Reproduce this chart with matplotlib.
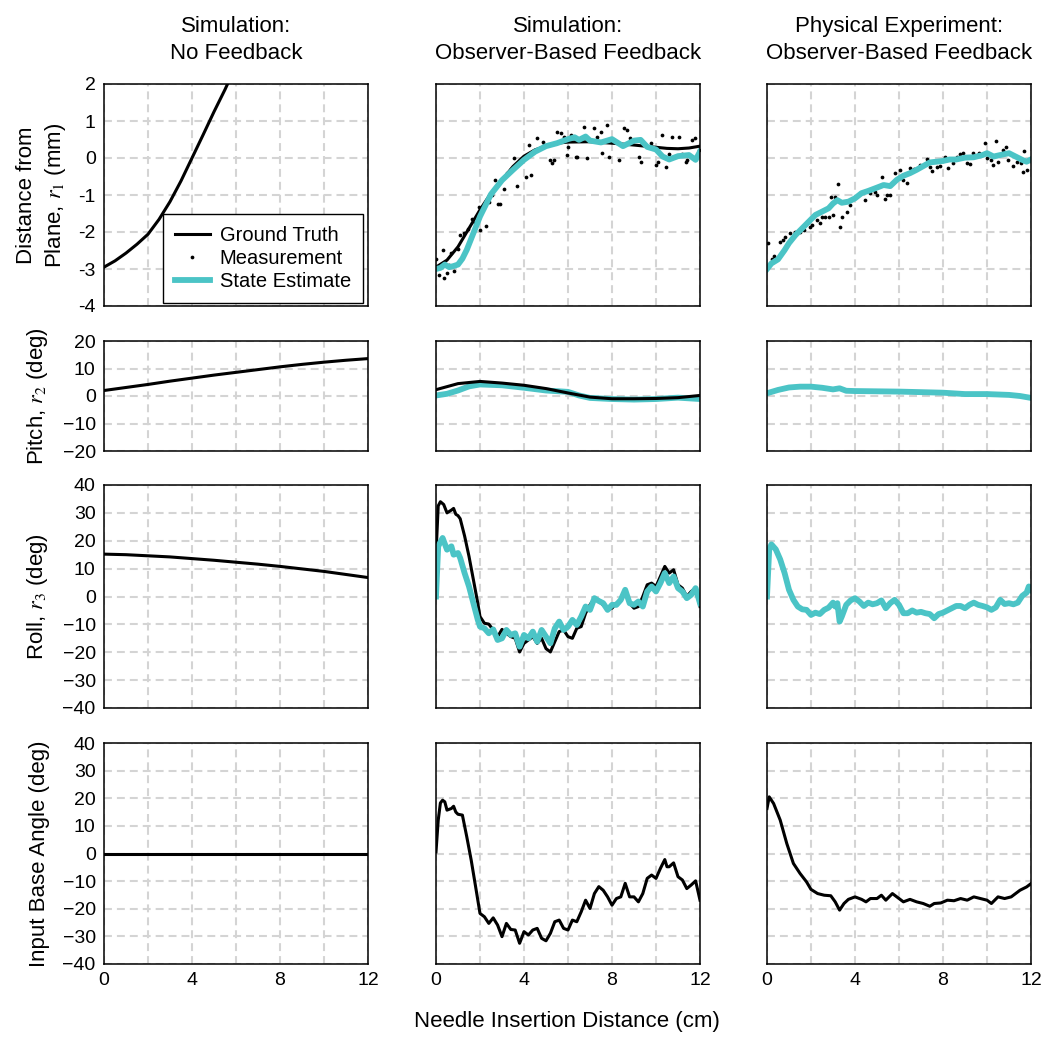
import matplotlib
matplotlib.use('Agg')
import matplotlib.pyplot as plt
from matplotlib.lines import Line2D

plt.rcParams['font.family'] = ['Liberation Sans', 'DejaVu Sans']
plt.rcParams['mathtext.fontset'] = 'stix'

# ---- datos ----
x_tramo = [0, 1, 2, 3, 4, 5, 6, 7, 8, 9, 10, 11, 12]

# Simulacion sin realimentacion
sin_r1_x = [0, 0.5, 1, 1.5, 2, 2.5, 3, 3.5, 4, 4.5, 5, 5.5, 6]
sin_r1 = [-2.95, -2.78, -2.57, -2.33, -2.06, -1.66, -1.18, -0.62, 0.0, 0.62, 1.25, 1.85, 2.5]
sin_r2 = [2.0, 3.1, 4.2, 5.4, 6.5, 7.6, 8.6, 9.6, 10.6, 11.5, 12.3, 13.0, 13.6]
sin_r3 = [15.2, 15.0, 14.6, 14.2, 13.6, 13.0, 12.3, 11.6, 10.8, 9.9, 9.0, 7.9, 6.8]
sin_u_x = [0, 12]
sin_u = [0, 0]

# Simulacion con realimentacion
sim_r1_x = [0, 0.5, 1, 1.5, 2, 2.5, 3, 3.5, 4, 4.5, 5, 5.5, 6, 7, 8, 9, 10, 10.5, 11, 11.5, 12]
sim_r1 = [-2.95, -2.76, -2.4, -1.9, -1.4, -0.95, -0.6, -0.23, 0.05, 0.22, 0.32, 0.4, 0.43,
          0.44, 0.4, 0.35, 0.29, 0.26, 0.25, 0.27, 0.32]
sim_r1_est_x = [0, 0.2, 0.4, 0.6, 0.8, 1.0, 1.2, 1.4, 1.6, 1.8, 2.0, 2.5, 3.0, 3.5, 4.0, 4.5,
                5.0, 5.5, 6.0, 6.3, 6.5, 6.8, 7.0, 7.5, 8.0, 8.5, 9.0, 9.3, 9.6, 10.0, 10.3,
                10.6, 11.0, 11.5, 11.8, 12.0]
sim_r1_est = [-3.0, -2.97, -2.88, -2.95, -2.92, -2.88, -2.72, -2.48, -2.18, -1.88, -1.58, -0.98,
              -0.6, -0.32, -0.05, 0.17, 0.32, 0.4, 0.51, 0.56, 0.49, 0.58, 0.47, 0.42, 0.51,
              0.32, 0.47, 0.49, 0.3, 0.23, 0.04, -0.04, 0.05, 0.08, -0.05, 0.17]
sim_medidas = [(0, -2.74), (0.15, -3.15), (0.3, -2.49), (0.38, -3.25), (0.5, -3.1), (0.6, -2.9),
               (0.7, -2.58), (0.8, -3.05), (1.0, -2.45), (1.08, -2.08), (1.26, -2.02),
               (1.46, -1.93), (1.64, -1.66), (1.76, -1.77), (1.94, -1.32), (1.99, -1.95),
               (2.14, -1.32), (2.27, -1.83), (2.4, -1.2), (2.55, -1.0), (2.7, -0.59),
               (2.8, -1.23), (2.93, -1.24), (3.1, -0.85), (3.23, -0.41), (3.4, -0.3),
               (3.54, 0.0), (3.69, -0.77), (3.84, -0.05), (3.99, -0.04), (4.11, -0.5),
               (4.22, 0.35), (4.3, -0.46), (4.45, 0.17), (4.6, 0.53), (4.87, 0.44),
               (4.93, 0.35), (5.17, -0.05), (5.28, -0.14), (5.36, -0.05), (5.51, 0.71),
               (5.66, 0.68), (5.81, 0.58), (5.97, 0.08), (6.0, 0.3), (6.12, 0.62),
               (6.35, 0.04), (6.42, 0.04), (6.72, 0.85), (6.87, -0.01), (7.18, 0.8),
               (7.33, 0.58), (7.48, 0.71), (7.56, 0.13), (7.79, 0.89), (7.86, 0.04),
               (8.09, 0.49), (8.32, -0.05), (8.54, 0.8), (8.7, 0.76), (8.8, 0.55),
               (8.92, 0.44), (9.22, 0.04), (9.3, -0.1), (9.76, 0.4), (9.99, -0.19),
               (10.1, -0.1), (10.29, 0.62), (10.44, -0.23), (10.6, 0.1), (10.74, 0.58),
               (11.05, 0.56), (11.2, 0.1), (11.35, -0.1), (11.43, -0.05), (11.65, 0.49),
               (11.76, 0.53), (11.95, 0.22)]

sim_r2 = [2.3, 4.5, 5.3, 4.7, 3.9, 2.7, 1.1, -0.4, -1.0, -1.0, -0.9, -0.6, 0.2]
sim_r2_est_x = [0, 0.5, 1, 1.5, 2, 3, 4, 5, 6, 6.5, 7, 8, 9, 10, 11, 12]
sim_r2_est = [0.2, 0.8, 2.0, 3.5, 4.2, 3.9, 3.0, 2.0, 1.5, 0.2, -0.7, -1.1, -1.3, -1.1, -0.6, -1.1]

sim_r3_x = [0, 0.1, 0.2, 0.35, 0.5, 0.7, 0.8, 0.9, 1.0, 1.1, 1.3, 1.5, 1.7, 1.9, 2.0, 2.2, 2.4,
            2.6, 2.8, 3.0, 3.2, 3.4, 3.6, 3.8, 4.0, 4.2, 4.4, 4.6, 4.8, 5.0, 5.2, 5.4, 5.6,
            5.8, 6.0, 6.2, 6.4, 6.6, 6.8, 7.0, 7.2, 7.4, 7.6, 7.8, 8.0, 8.2, 8.4, 8.6, 8.8,
            9.0, 9.2, 9.4, 9.6, 9.8, 10.0, 10.2, 10.4, 10.5, 10.6, 10.8, 11.0, 11.2, 11.4,
            11.6, 11.8, 12.0]
sim_r3 = [15, 32.5, 34, 33, 30, 31, 31.6, 29.5, 29, 27.9, 21.7, 14.4, 6, -2.4, -7.2, -9.6,
          -9.9, -12, -14.4, -11.8, -13.2, -14.4, -15, -19.9, -16.8, -15.6, -14.4, -16.8, -15,
          -18.7, -19.9, -16.2, -12.6, -12, -14.4, -15, -11.4, -10.8, -6, -3, -0.6, -1.8, -3,
          -4.8, -4.2, -2.4, -1.2, 1.8, -2.4, -4.2, -3.6, 0, 4.2, 4.8, 3.6, 7.2, 10.8, 9.6, 8.4,
          9.6, 4.2, 3, 0, 1.8, 3, -3.6]
sim_r3_est_x = [0, 0.1, 0.3, 0.5, 0.7, 0.8, 1.0, 1.1, 1.3, 1.5, 1.7, 1.9, 2.0, 2.2, 2.4, 2.6,
                2.8, 3.0, 3.2, 3.4, 3.6, 3.8, 4.0, 4.2, 4.4, 4.6, 4.8, 5.0, 5.2, 5.4, 5.6, 5.8,
                6.0, 6.2, 6.4, 6.6, 6.8, 7.0, 7.2, 7.4, 7.6, 7.8, 8.0, 8.2, 8.4, 8.6, 8.8, 9.0,
                9.2, 9.4, 9.6, 9.8, 10.0, 10.2, 10.4, 10.6, 10.8, 11.0, 11.2, 11.4, 11.6, 11.8,
                12.0]
sim_r3_est = [0, 18, 21, 16.8, 18, 15, 15.6, 13.8, 8.4, 3.6, -2.4, -8.4, -10.8, -11.4, -13.2,
              -11.8, -15.6, -15, -12, -13.8, -13.2, -18, -13.8, -15, -12.6, -16.2, -12, -14.4,
              -16.8, -11.4, -9, -12, -10.8, -8.4, -10.2, -7.2, -3.6, -4.8, -0.6, -1.6, -2.4,
              -4.8, -3, -3, -1.2, 2.4, -2.4, -3, -1.8, -3.6, 1.8, 3.6, 1.8, 4.8, 8.4, 4.8, 7.2,
              3, 1.8, -0.6, 0.6, 3, -2.4]

sim_u_x = [0, 0.1, 0.2, 0.3, 0.4, 0.5, 0.7, 0.8, 0.9, 1.0, 1.2, 1.4, 1.6, 1.8, 2.0, 2.2, 2.4,
           2.6, 2.8, 3.0, 3.2, 3.4, 3.6, 3.8, 4.0, 4.2, 4.4, 4.6, 4.8, 5.0, 5.2, 5.4, 5.6, 5.8,
           6.0, 6.2, 6.4, 6.6, 6.8, 7.0, 7.2, 7.4, 7.6, 7.8, 8.0, 8.2, 8.4, 8.6, 8.8, 9.0, 9.2,
           9.4, 9.6, 9.8, 10.0, 10.2, 10.4, 10.5, 10.6, 10.8, 11.0, 11.2, 11.4, 11.6, 11.8, 12.0]
sim_u = [0.6, 12, 18.3, 19.3, 18.7, 15.7, 16.3, 17.1, 15, 14.2, 13.9, 6, -2.4, -12, -21.7,
         -22.9, -25.3, -23.3, -25.9, -30.1, -25.3, -27.5, -27.7, -32.5, -28.3, -29.5, -27.7,
         -27.1, -30.7, -31.6, -28.9, -24.7, -24.1, -27.1, -27.7, -24.1, -24.7, -21.1, -16.9,
         -19.9, -14.5, -12, -13.3, -15.7, -18.7, -16.3, -15.7, -10.8, -15.7, -15.7, -17.5,
         -14.5, -9, -7.8, -9, -5.4, -2.2, -4.8, -4.8, -3.4, -8.4, -9.6, -12.7, -11.4, -9.9,
         -16.9]

# Experimento fisico
exp_r1_est_x = [0, 0.2, 0.5, 0.8, 1.0, 1.3, 1.6, 1.9, 2.2, 2.5, 2.8, 3.0, 3.2, 3.4, 3.7, 4.0,
                4.3, 4.6, 5.0, 5.3, 5.6, 5.9, 6.2, 6.5, 6.8, 7.1, 7.4, 7.7, 8.0, 8.3, 8.6, 9.0,
                9.4, 9.8, 10.0, 10.3, 10.6, 11.0, 11.3, 11.6, 11.8, 12.0]
exp_r1_est = [-3.0, -2.85, -2.74, -2.49, -2.3, -2.08, -1.9, -1.72, -1.54, -1.45, -1.36, -1.23,
              -1.14, -1.21, -1.18, -1.09, -0.95, -0.89, -0.8, -0.73, -0.76, -0.59, -0.48,
              -0.41, -0.32, -0.22, -0.12, -0.1, -0.08, -0.04, -0.04, 0.01, 0.02, 0.08, 0.13,
              0.04, 0.08, 0.13, 0.04, -0.05, -0.1, -0.04]
exp_medidas = [(0.03, -2.31), (0.23, -2.74), (0.33, -2.65), (0.6, -2.26), (0.73, -2.22),
               (0.83, -2.13), (1.03, -2.04), (1.29, -1.99), (1.51, -1.99), (1.66, -1.95),
               (1.94, -1.86), (2.04, -1.81), (2.27, -1.68), (2.42, -1.77), (2.5, -1.59),
               (2.65, -1.59), (2.8, -1.59), (2.9, -1.06), (3.0, -1.54), (3.1, -1.06),
               (3.21, -0.7), (3.3, -1.87), (3.4, -1.59), (3.63, -1.45), (3.75, -1.27),
               (4.01, -1.05), (4.24, -0.94), (4.46, -1.14), (4.69, -0.95), (4.92, -0.91),
               (5.0, -1.0), (5.22, -0.5), (5.37, -1.12), (5.45, -1.0), (5.6, -1.0),
               (5.82, -0.41), (6.05, -0.32), (6.2, -0.59), (6.35, -0.67), (6.5, -0.28),
               (6.66, -0.31), (6.96, -0.19), (7.26, -0.02), (7.41, -0.25), (7.49, -0.35),
               (7.71, -0.23), (7.87, -0.22), (8.09, 0.04), (8.24, -0.28), (8.47, -0.14),
               (8.62, 0.04), (8.77, 0.11), (8.93, 0.13), (9.08, -0.14), (9.23, -0.16),
               (9.38, 0.14), (9.65, 0.13), (9.91, 0.4), (10.02, -0.01), (10.17, -0.05),
               (10.29, -0.19), (10.4, 0.47), (10.51, -0.1), (10.74, 0.22), (10.86, 0.31),
               (10.97, -0.05), (11.2, -0.22), (11.35, -0.1), (11.53, -0.13), (11.62, -0.37),
               (11.7, 0.2), (11.83, -0.32)]

exp_r2_est_x = [0, 0.5, 1, 1.5, 2, 2.5, 3, 3.3, 3.6, 4, 5, 6, 7, 8, 9, 10, 11, 11.5, 12]
exp_r2_est = [1.0, 2.2, 3.1, 3.4, 3.4, 3.0, 2.4, 2.8, 1.9, 1.8, 1.7, 1.6, 1.4, 1.2, 0.7, 0.7,
              0.4, 0.0, -0.7]

exp_r3_est_x = [0, 0.1, 0.2, 0.4, 0.6, 0.8, 1.0, 1.2, 1.4, 1.6, 1.8, 2.0, 2.2, 2.4, 2.6, 2.8,
                3.0, 3.1, 3.2, 3.3, 3.4, 3.6, 3.8, 4.0, 4.2, 4.4, 4.6, 4.8, 5.0, 5.2, 5.4, 5.6,
                5.8, 6.0, 6.2, 6.4, 6.6, 6.8, 7.0, 7.2, 7.4, 7.6, 7.8, 8.0, 8.2, 8.4, 8.6, 8.8,
                9.0, 9.2, 9.4, 9.6, 9.8, 10.0, 10.2, 10.4, 10.6, 10.8, 11.0, 11.2, 11.4, 11.6,
                11.8, 11.9, 12.0]
exp_r3_est = [0, 16.9, 18.7, 16.9, 13.3, 8.4, 2.4, -1.2, -3.6, -4.6, -4.8, -6.6, -5.8, -6.3,
              -4.8, -4, -2.2, -3.6, -2.4, -9, -7.2, -3, -1.4, -0.6, -1.8, -3.4, -2.2, -2.8,
              -2.4, -1.4, -4.2, -2.4, -1.2, -3, -6, -6, -5, -5.8, -5.5, -6, -6.3, -7.8, -6.3,
              -5.8, -5, -4.2, -3.4, -3.4, -4.2, -3, -2.2, -3, -3.4, -3.9, -4.8, -3.9, -1.2,
              -2.7, -2.4, -2.8, -2.2, 0.2, 1.4, 3.6, 2.4]

exp_u_x = [0, 0.1, 0.3, 0.6, 0.9, 1.2, 1.5, 1.8, 2.0, 2.3, 2.6, 2.9, 3.1, 3.3, 3.5, 3.7, 4.0,
           4.3, 4.5, 4.7, 5.0, 5.2, 5.4, 5.7, 5.9, 6.2, 6.5, 6.8, 7.1, 7.4, 7.6, 7.9, 8.2, 8.5,
           8.8, 9.1, 9.4, 9.7, 10.0, 10.2, 10.5, 10.8, 11.1, 11.3, 11.5, 11.8, 12.0]
exp_u = [16.3, 20.5, 18.1, 12.1, 3.6, -3.6, -7.2, -10.3, -13, -14.5, -15.1, -15.3, -17.5,
         -20.5, -18.1, -16.6, -15.7, -16.6, -17.5, -16.3, -16.3, -15.1, -16.9, -14.5, -15.7,
         -17.5, -16.6, -17.5, -18.1, -19.1, -18.1, -17.9, -16.9, -17.1, -16.3, -16.9, -15.7,
         -16.3, -16.9, -18.1, -15.7, -16.3, -15.7, -14.5, -13.3, -12.1, -10.9]

titulos = ['Simulation:\nNo Feedback', 'Simulation:\nObserver-Based Feedback',
           'Physical Experiment:\nObserver-Based Feedback']
etiquetas_y = ['Distance from\nPlane, $r_1$ (mm)', 'Pitch, $r_2$ (deg)', 'Roll, $r_3$ (deg)',
               'Input Base Angle (deg)']
yticks = [[-4, -3, -2, -1, 0, 1, 2], [-20, -10, 0, 10, 20],
          [-40, -30, -20, -10, 0, 10, 20, 30, 40], [-40, -30, -20, -10, 0, 10, 20, 30, 40]]

# ---- figura ----
NEGRO = 'black'
CIAN = '#4BC4C6'
W, H = 1047, 1050
izq = [104, 436, 767]
ancho = 264
arriba = [84, 341, 485, 743]
abajo = [306, 451, 708, 964]

fig = plt.figure(figsize=(W / 100, H / 100), dpi=100)
ejes = []
for f in range(4):
    fila = []
    for c in range(3):
        ax = fig.add_axes([izq[c] / W, 1 - abajo[f] / H, ancho / W, (abajo[f] - arriba[f]) / H])
        ax.set_xlim(0, 12)
        ax.set_ylim(yticks[f][0], yticks[f][-1])
        ax.set_xticks([0, 2, 4, 6, 8, 10, 12])
        ax.set_yticks(yticks[f])
        if f == 3:
            ax.set_xticklabels(['0', '', '4', '', '8', '', '12'])
        else:
            ax.set_xticklabels([])
        if c == 0:
            if f == 0:
                ax.set_yticklabels([str(v) for v in yticks[f]])
            else:
                ax.set_yticklabels([str(v).replace('-', '\u2212') for v in yticks[f]])
        else:
            ax.set_yticklabels([])
        ax.tick_params(length=0, labelsize=14, pad=6)
        ax.set_axisbelow(True)
        ax.grid(True, color='#d4d4d4', lw=1.5, linestyle=(0, (3.8, 2.4)))
        for s in ax.spines.values():
            s.set_linewidth(1.1)
            s.set_color('black')
            s.set_zorder(3)
        fila.append(ax)
    ejes.append(fila)

lw_n = 2.2
lw_c = 4.2
ms = 2.7

# Columna 1
ejes[0][0].plot(sin_r1_x, sin_r1, color=NEGRO, lw=lw_n)
ejes[1][0].plot(x_tramo, sin_r2, color=NEGRO, lw=lw_n)
ejes[2][0].plot(x_tramo, sin_r3, color=NEGRO, lw=lw_n)
ejes[3][0].plot(sin_u_x, sin_u, color=NEGRO, lw=lw_n)

# Columna 2
mx, my = zip(*sim_medidas)
ejes[0][1].plot(sim_r1_x, sim_r1, color=NEGRO, lw=lw_n)
ejes[0][1].plot(mx, my, 'o', color=NEGRO, ms=ms, mew=0)
ejes[0][1].plot(sim_r1_est_x, sim_r1_est, color=CIAN, lw=lw_c)
ejes[1][1].plot(sim_r2_est_x, sim_r2_est, color=CIAN, lw=lw_c)
ejes[1][1].plot(x_tramo, sim_r2, color=NEGRO, lw=lw_n)
ejes[2][1].plot(sim_r3_x, sim_r3, color=NEGRO, lw=lw_n)
ejes[2][1].plot(sim_r3_est_x, sim_r3_est, color=CIAN, lw=lw_c)
ejes[3][1].plot(sim_u_x, sim_u, color=NEGRO, lw=lw_n)

# Columna 3
mx, my = zip(*exp_medidas)
ejes[0][2].plot(mx, my, 'o', color=NEGRO, ms=ms, mew=0)
ejes[0][2].plot(exp_r1_est_x, exp_r1_est, color=CIAN, lw=lw_c)
ejes[1][2].plot(exp_r2_est_x, exp_r2_est, color=CIAN, lw=lw_c)
ejes[2][2].plot(exp_r3_est_x, exp_r3_est, color=CIAN, lw=lw_c)
ejes[3][2].plot(exp_u_x, exp_u, color=NEGRO, lw=lw_n)

# Leyenda
manejadores = [Line2D([], [], color=NEGRO, lw=lw_n),
               Line2D([], [], color=NEGRO, marker='o', ms=ms, mew=0, ls='none'),
               Line2D([], [], color=CIAN, lw=lw_c)]
leg = ejes[0][0].legend(manejadores, ['Ground Truth', 'Measurement', 'State Estimate'],
                        loc='lower right', bbox_to_anchor=(0.981, 0.014), borderaxespad=0,
                        fontsize=14.5, handlelength=1.7, handletextpad=0.5, labelspacing=0.2,
                        borderpad=0.6, fancybox=False, framealpha=1, edgecolor='black')
leg.get_frame().set_linewidth(1.0)
leg.set_zorder(5)

# Titulos y etiquetas
for c in range(3):
    fig.text((izq[c] + ancho / 2) / W, 1 - 40 / H, titulos[c], fontsize=16,
             ha='center', va='center', linespacing=1.35)

pos_y = [42, 37, 38, 40]
for f in range(4):
    fig.text(pos_y[f] / W, 1 - (arriba[f] + abajo[f]) / 2 / H, etiquetas_y[f], fontsize=16,
             rotation=90, ha='center', va='center', linespacing=1.3)

fig.text(567 / W, 1 - 1021 / H, 'Needle Insertion Distance (cm)', fontsize=16,
         ha='center', va='center')

fig.savefig('out.png', dpi=100)
